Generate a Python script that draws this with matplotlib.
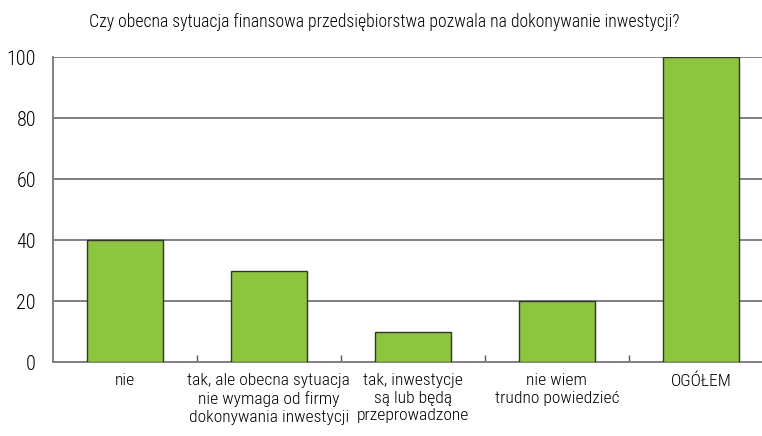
import matplotlib
matplotlib.use("Agg")
import matplotlib.pyplot as plt
import numpy as np

plt.rcParams['font.family'] = ['Roboto Condensed', 'Archivo Narrow', 'DejaVu Sans']

title = "Czy obecna sytuacja finansowa przedsiębiorstwa pozwala na dokonywanie inwestycji?"
categories = ["nie",
              "tak, ale obecna sytuacja\nnie wymaga od firmy\ndokonywania inwestycji",
              "tak, inwestycje\nsą lub będą\nprzeprowadzone",
              "nie wiem\ntrudno powiedzieć",
              "OGÓŁEM"]
values = [40, 30, 10, 20, 100]
yticks = [0, 20, 40, 60, 80, 100]

W, H = 762, 436
fig = plt.figure(figsize=(W / 100, H / 100), dpi=100)
left, right, top, bottom = 52.7, 773, 57, 362
ax = fig.add_axes([left / W, 1 - bottom / H, (right - left) / W, (bottom - top) / H])

x = np.arange(len(categories))
ax.bar(x, values, width=0.525, color='#8DC540', edgecolor='#333333', linewidth=1.0, zorder=3)

ax.set_xlim(-0.5, len(categories) - 0.5)
ax.set_ylim(0, 100)
ax.set_yticks(yticks)
ax.set_yticklabels([str(v) for v in yticks], fontsize=14.5, fontweight='light')
ax.yaxis.grid(True, color='#808080', linewidth=1.4, zorder=0)
ax.set_axisbelow(True)
ax.tick_params(axis='y', length=0, pad=12)

ax.set_xticks(x)
ax.set_xticklabels(categories, fontsize=12.6, linespacing=1.22, fontweight='light')
ax.tick_params(axis='x', which='major', length=0, pad=8)
ax.set_xticks(np.arange(len(categories)) + 0.5, minor=True)
ax.tick_params(axis='x', which='minor', direction='in', length=5, width=1, color='#555555')

for s in ['top', 'right']:
    ax.spines[s].set_visible(False)
for s in ['left', 'bottom']:
    ax.spines[s].set_color('#808080')
    ax.spines[s].set_linewidth(1.4)

fig.text(384 / W, 1 - 22 / H, title, ha='center', va='center', fontsize=12.8, fontweight='light')

fig.savefig('out.png', dpi=100)
